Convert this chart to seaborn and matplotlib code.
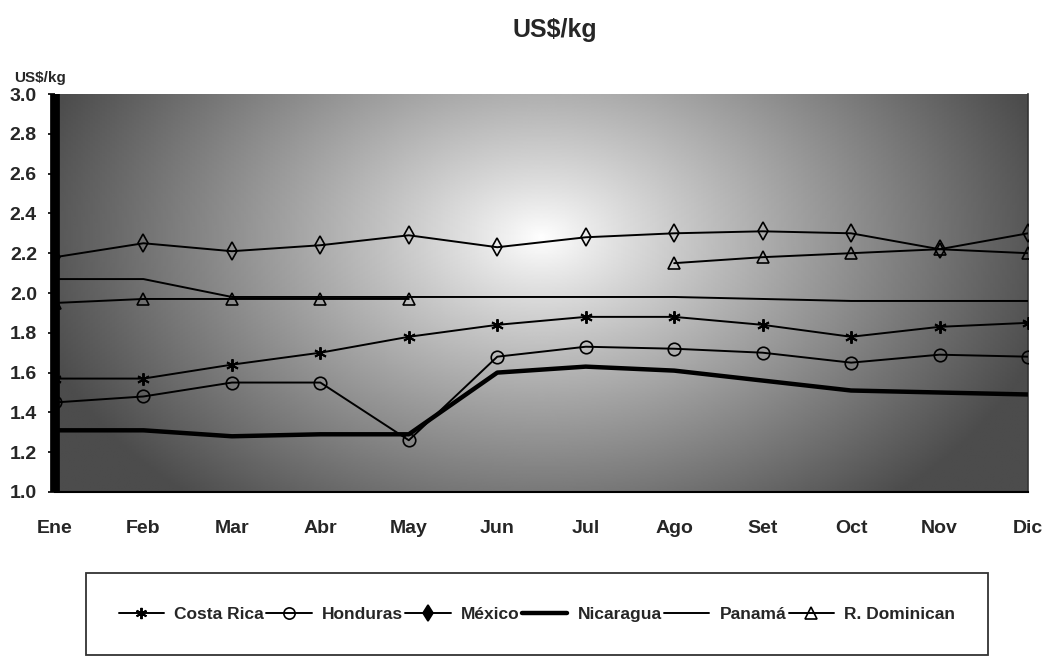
import numpy as np
import pandas as pd
import matplotlib
matplotlib.use("Agg")
import matplotlib.pyplot as plt
from matplotlib.lines import Line2D
import seaborn as sns

months = ["Ene", "Feb", "Mar", "Abr", "May", "Jun", "Jul", "Ago", "Set", "Oct", "Nov", "Dic"]
costa_rica = [1.57, 1.57, 1.64, 1.70, 1.78, 1.84, 1.88, 1.88, 1.84, 1.78, 1.83, 1.85]
honduras = [1.45, 1.48, 1.55, 1.55, 1.26, 1.68, 1.73, 1.72, 1.70, 1.65, 1.69, 1.68]
mexico = [2.18, 2.25, 2.21, 2.24, 2.29, 2.23, 2.28, 2.30, 2.31, 2.30, 2.22, 2.30]
nicaragua = [1.31, 1.31, 1.28, 1.29, 1.29, 1.60, 1.63, 1.61, 1.56, 1.51, 1.50, 1.49]
panama = [2.07, 2.07, 1.98, 1.98, 1.98, 1.98, 1.98, 1.98, 1.97, 1.96, 1.96, 1.96]
r_dominican = [1.95, 1.97, 1.97, 1.97, 1.97, np.nan, np.nan, 2.15, 2.18, 2.20, 2.22, 2.20]
yticks = [1.0, 1.2, 1.4, 1.6, 1.8, 2.0, 2.2, 2.4, 2.6, 2.8, 3.0]

series = {
    "Costa Rica": costa_rica,
    "Honduras": honduras,
    "México": mexico,
    "Nicaragua": nicaragua,
    "Panamá": panama,
    "R. Dominican": r_dominican,
}

styles = {
    "Costa Rica": dict(marker=(6, 2, 0), ms=9, mfc="black", lw=1.4, mew=1.4, leg_mfc="black"),
    "Honduras": dict(marker="o", ms=9, mfc="none", lw=1.4, mew=1.2, leg_mfc="none"),
    "México": dict(marker="d", ms=9, mfc="none", lw=1.4, mew=1.2, leg_mfc="black"),
    "Nicaragua": dict(marker=None, ms=0, mfc="none", lw=3.2, mew=0, leg_mfc="none"),
    "Panamá": dict(marker=None, ms=0, mfc="none", lw=1.4, mew=0, leg_mfc="none"),
    "R. Dominican": dict(marker="^", ms=9, mfc="none", lw=1.4, mew=1.2, leg_mfc="none"),
}

rows = []
for name, vals in series.items():
    seg = 0
    for i, v in enumerate(vals):
        if np.isnan(v):
            seg += 1
            continue
        rows.append(dict(country=name, idx=i, val=v, seg=seg))
df = pd.DataFrame(rows)

sns.set_theme(style="white")
plt.rcParams["font.family"] = ["Liberation Sans Narrow", "Liberation Sans", "DejaVu Sans"]
plt.rcParams["font.weight"] = "bold"

fig = plt.figure(figsize=(10.46, 6.57), dpi=100)
ax = fig.add_axes([55 / 1046, (657 - 492) / 657, (1028 - 55) / 1046, 398 / 657])

# radial grey background
gx = np.linspace(0, 1, 400)
gy = np.linspace(0, 1, 300)
GX, GY = np.meshgrid(gx, gy)
d = np.sqrt(((GX - 0.50) / 0.58) ** 2 + ((GY - 0.64) / 0.95) ** 2)
bg = np.clip(1.0 - 0.75 * d ** 0.9, 0.30, 1.0)
ax.imshow(bg, cmap="gray", vmin=0, vmax=1, extent=[0, 11, 1.0, 3.0],
          origin="lower", aspect="auto", zorder=0, interpolation="bilinear")

handles = []
for name in series:
    st = styles[name]
    sub = df[df.country == name]
    sns.lineplot(data=sub, x="idx", y="val", units="seg", estimator=None, ax=ax,
                 color="black", linewidth=st["lw"], marker=st["marker"],
                 markersize=st["ms"], markerfacecolor=st["mfc"],
                 markeredgecolor="black", markeredgewidth=st["mew"],
                 legend=False, zorder=3, clip_on=True)
    handles.append(Line2D([], [], color="black", lw=st["lw"], marker=st["marker"],
                          ms=st["ms"] * 0.9, mfc=st["leg_mfc"],
                          mec="black", mew=st["mew"], label=name))

ax.set_xlim(0, 11)
ax.set_ylim(1.0, 3.0)
ax.set_xticks(range(12))
ax.set_xticklabels(months, fontsize=14, fontweight="bold")
ax.set_yticks(yticks)
ax.set_yticklabels([f"{t:.1f}" for t in yticks], fontsize=14, fontweight="bold")
ax.set_xlabel("")
ax.set_ylabel("")
ax.tick_params(axis="x", length=0, pad=20)
ax.tick_params(axis="y", length=5, width=1.2, color="black", direction="out", pad=8, left=True)

ax.spines["top"].set_visible(False)
ax.spines["left"].set_linewidth(7)
ax.spines["left"].set_color("black")
ax.spines["left"].set_capstyle("butt")
ax.spines["bottom"].set_linewidth(1.5)
ax.spines["bottom"].set_color("black")
ax.spines["right"].set_linewidth(1.2)
ax.spines["right"].set_color("#333333")

fig.text(555 / 1046, 1 - 30 / 657, "US$/kg", ha="center", va="center",
         fontsize=18, fontweight="bold", family=["Liberation Sans", "DejaVu Sans"])
fig.text(14 / 1046, 1 - 78 / 657, "US$/kg", ha="left", va="center",
         fontsize=11, fontweight="bold")

leg = fig.legend(handles=handles, loc="center", ncol=6,
                 bbox_to_anchor=(77 / 1046, 2 / 657, 920 / 1046, 82 / 657), mode="expand",
                 frameon=True, fancybox=False, edgecolor="black", borderpad=1.9,
                 handlelength=2.6, handletextpad=0.6, columnspacing=0.8,
                 prop={"size": 12.5, "weight": "bold"})
leg.get_frame().set_linewidth(1.3)

fig.savefig("out.png", dpi=100, facecolor="white")
